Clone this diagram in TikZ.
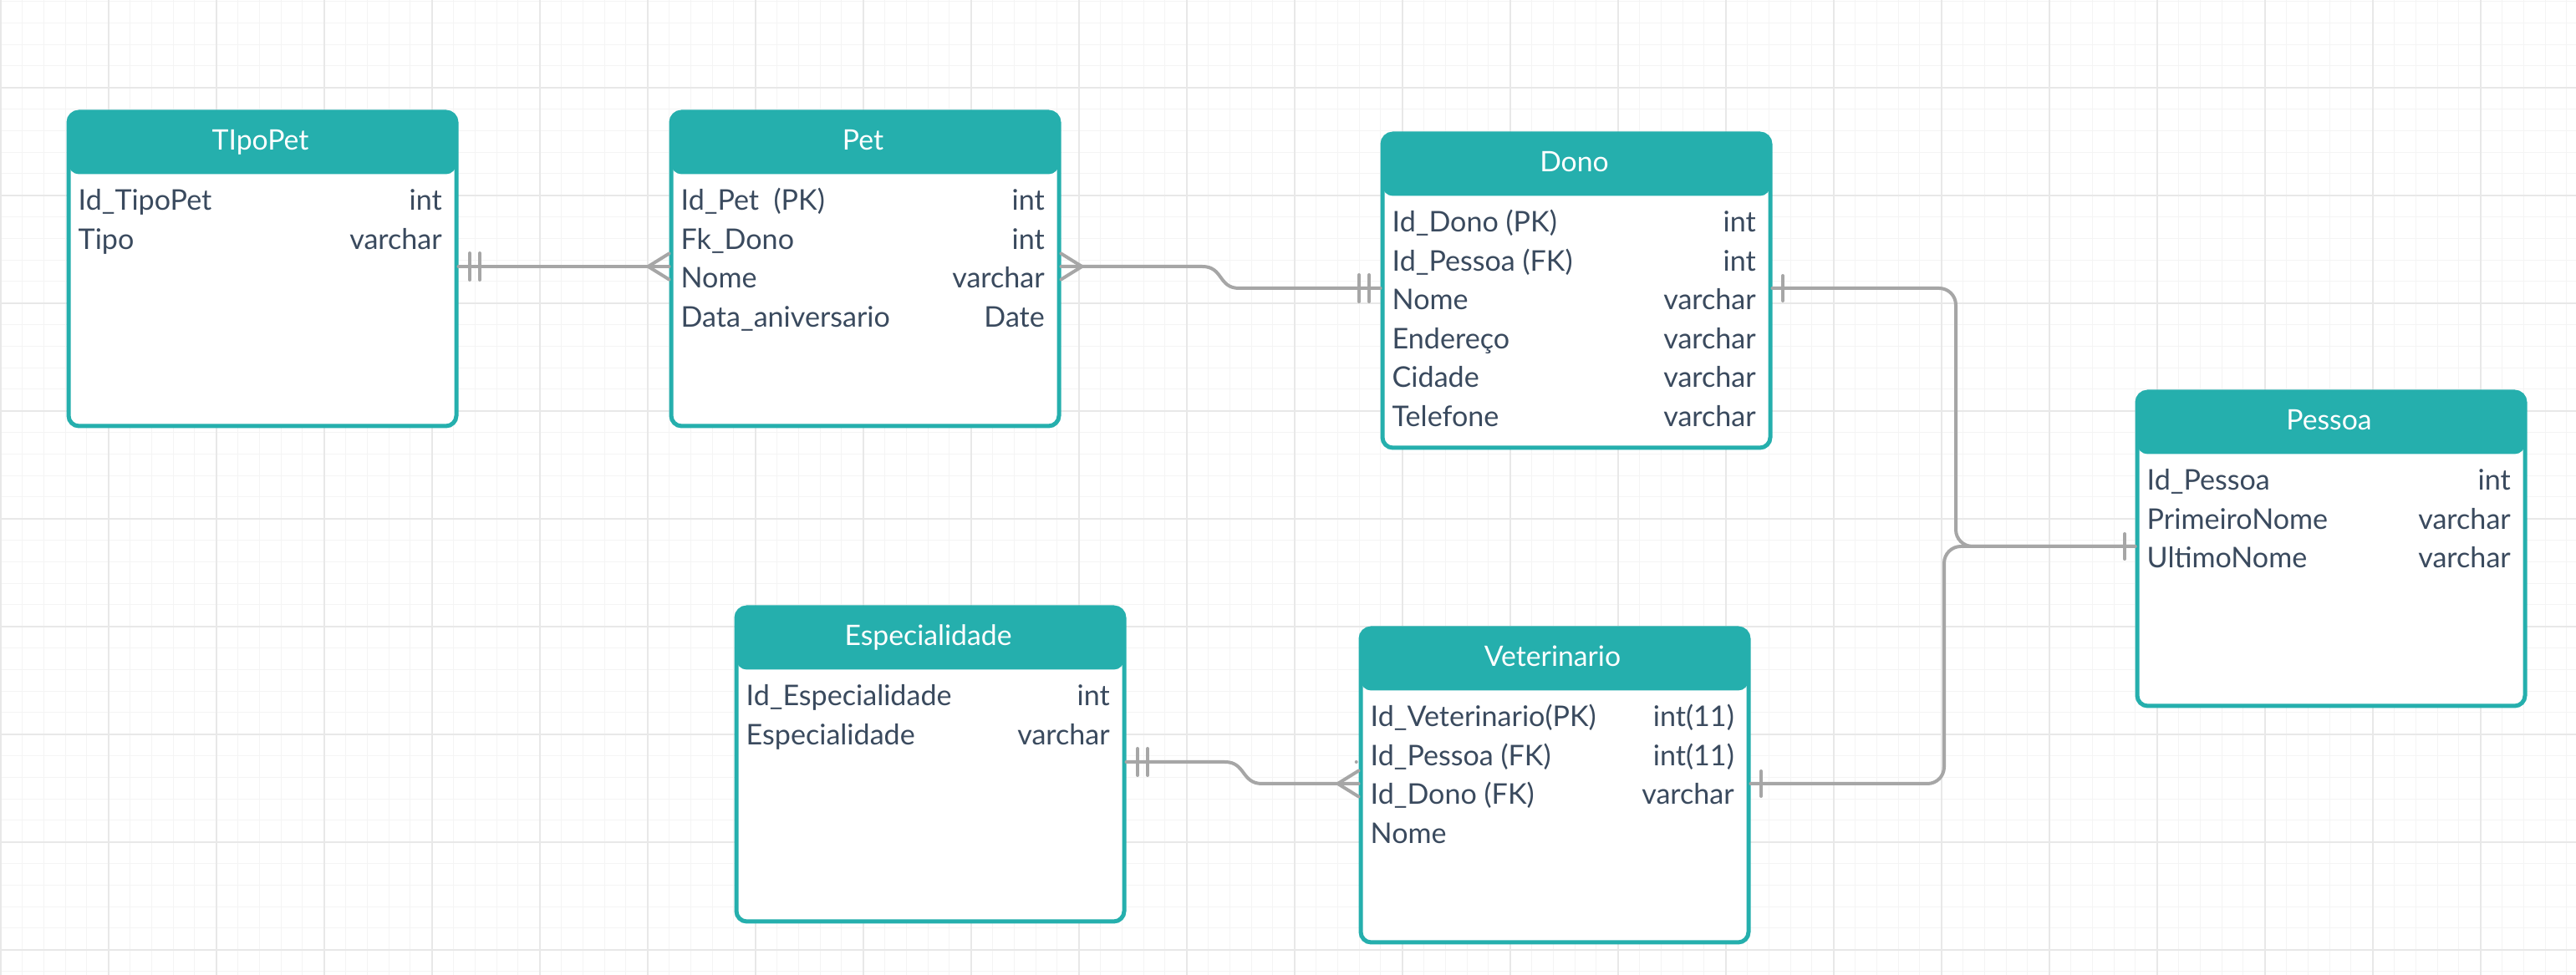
\documentclass[tikz,border=0pt]{standalone}
\usepackage{fontspec}
\setmainfont{Lato}
\usetikzlibrary{calc}
\definecolor{erteal}{HTML}{25AFAD}
\definecolor{erink}{HTML}{3A4A5E}
\definecolor{ergrey}{HTML}{A6A6A6}
\definecolor{gridmin}{HTML}{F4F4F4}
\definecolor{gridmaj}{HTML}{E8E8E8}

\tikzset{
  tbl/.style={draw=erteal, line width=0.05cm, fill=white, rounded corners=0.125cm,
    minimum width=4.64cm, minimum height=3.76cm, anchor=north west, inner sep=0,
    path picture={\fill[erteal] ([yshift=0.1cm]path picture bounding box.north west)
      rectangle ([yshift=-0.745cm]path picture bounding box.north east);}},
  tbltitle/.style={anchor=base, inner sep=0, text=white, font=\fontsize{9.6}{11}\selectfont},
  field/.style={anchor=base west, inner sep=0, text=erink, font=\fontsize{9.7}{11}\selectfont},
  ftype/.style={field, anchor=base east},
  rel/.style={draw=ergrey, line width=0.04cm, line cap=round},
  onlyone/.pic={\draw[rel] (0.135,0.16) -- (0.135,-0.16) (0.255,0.16) -- (0.255,-0.16);},
  onebar/.pic={\draw[rel] (0.125,0.15) -- (0.125,-0.15);},
  crowfoot/.pic={\draw[rel] (0,0.155) -- (0.25,0) -- (0,-0.155);}
}

\newcommand\ertable[3]{%
  \node[tbl] (#1) at (0.025,-0.025) {};
  \node[tbltitle] (#1-title) at (2.345,-0.51) {#2};
  \foreach \fld/\typ [count=\i] in {#3} {
    \node[field] (#1-k\i) at (0.16,{-1.23-0.465*(\i-1)}) {\fld};
    \node[ftype] (#1-t\i) at (4.525,{-1.23-0.465*(\i-1)}) {\typ};
  }
}

\begin{document}
\begin{tikzpicture}
\useasboundingbox (0,0) rectangle (30.82,-11.67);
\fill[white] (0,0) rectangle (30.82,-11.67);
\begin{scope}
\clip (0,0) rectangle (30.82,-11.67);
\foreach \i in {0,...,119}
  \draw[gridmin, line width=0.01cm] ({0.007+0.258*\i},0) -- ++(0,-11.67);
\foreach \i in {0,...,45}
  \draw[gridmin, line width=0.01cm] (0,{-0.0156-0.258*\i}) -- ++(30.82,0);
\foreach \i in {0,...,23}
  \draw[gridmaj, line width=0.02cm] ({0.007+1.29*\i},0) -- ++(0,-11.67);
\foreach \i in {0,...,8}
  \draw[gridmaj, line width=0.02cm] (0,{-1.048-1.29*\i}) -- ++(30.82,0);
\end{scope}

\begin{scope}[shift={(0.77,-1.29)}]
\ertable{tipopet}{TIpoPet}{Id\_TipoPet/int, Tipo/varchar}
\end{scope}

\begin{scope}[shift={(7.98,-1.29)}]
\ertable{pet}{Pet}{Id\_Pet\ \ (PK)/int, Fk\_Dono/int, Nome/varchar, Data\_aniversario/Date}
\end{scope}

\begin{scope}[shift={(16.49,-1.55)}]
\ertable{dono}{Dono}{Id\_Dono (PK)/int, Id\_Pessoa (FK)/int, Nome/varchar,
  Endereço/varchar, Cidade/varchar, Telefone/varchar}
\end{scope}

\begin{scope}[shift={(25.52,-4.64)}]
\ertable{pessoa}{Pessoa}{Id\_Pessoa/int, PrimeiroNome/varchar, UltimoNome/varchar}
\end{scope}

\begin{scope}[shift={(8.76,-7.22)}]
\ertable{espec}{Especialidade}{Id\_Especialidade/int, Especialidade/varchar}
\end{scope}

\begin{scope}[shift={(16.23,-7.47)}]
\ertable{vet}{Veterinario}{Id\_Veterinario(PK)/int(11), Id\_Pessoa (FK)/int(11),
  Id\_Dono (FK)/varchar, Nome/{}}
\end{scope}

\coordinate (tipopet-r) at ([yshift=-1.875cm]tipopet.north east);
\coordinate (pet-l) at ([yshift=-1.875cm]pet.north west);
\coordinate (pet-r) at ([yshift=-1.875cm]pet.north east);
\coordinate (dono-l) at ([yshift=-1.875cm]dono.north west);
\coordinate (dono-r) at ([yshift=-1.875cm]dono.north east);
\coordinate (pessoa-l) at ([yshift=-1.875cm]pessoa.north west);
\coordinate (espec-r) at ([yshift=-1.875cm]espec.north east);
\coordinate (vet-l) at ([yshift=-1.885cm]vet.north west);
\coordinate (vet-r) at ([yshift=-1.885cm]vet.north east);

\draw[rel] (tipopet-r) -- (pet-l);
\draw[rel] (pet-r) -- ++(1.69,0) .. controls +(0.25,0) and +(-0.25,0) .. ($(dono-l)+(-1.69,0)$) -- (dono-l);
\draw[rel, rounded corners=0.2cm] (dono-r) -- ++(2.195,0) |- (pessoa-l);
\draw[rel, rounded corners=0.2cm] (vet-r) -- ++(2.315,0) |- (pessoa-l);
\draw[rel] (espec-r) -- ++(1.18,0) .. controls +(0.25,0) and +(-0.25,0) .. ($(vet-l)+(-1.155,0)$) -- (vet-l);

\path (tipopet-r) pic {onlyone} (pet-l) pic[rotate=180] {crowfoot};
\path (pet-r) pic {crowfoot} (dono-l) pic[rotate=180] {onlyone};
\path (dono-r) pic {onebar} (pessoa-l) pic[rotate=180] {onebar};
\path (vet-r) pic {onebar};
\path (espec-r) pic {onlyone} (vet-l) pic[rotate=180] {crowfoot};
\fill[ergrey] ([xshift=-0.028cm,yshift=-1.625cm]vet.north west) circle (0.02);
\end{tikzpicture}
\end{document}
